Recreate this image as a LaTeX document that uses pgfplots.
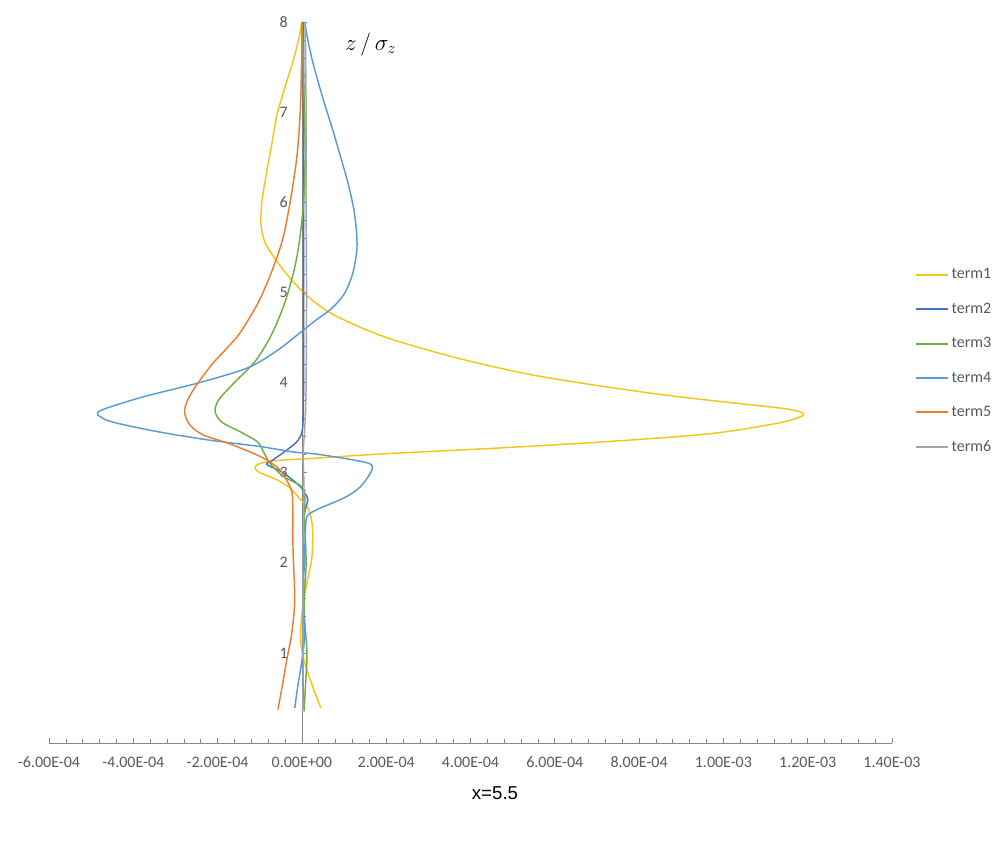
\documentclass[border=0pt]{standalone}
\usepackage{pgfplots}
\pgfplotsset{compat=1.18}
\usepackage{fontspec}
\setmainfont{Carlito}
\newfontfamily\arialfont{Liberation Sans}
\definecolor{cTa}{RGB}{245,197,24}
\definecolor{cTb}{RGB}{68,114,196}
\definecolor{cTc}{RGB}{112,173,71}
\definecolor{cTd}{RGB}{91,155,213}
\definecolor{cTe}{RGB}{237,125,49}
\definecolor{cTf}{RGB}{165,165,165}
\definecolor{axgray}{RGB}{134,134,134}
\definecolor{labgray}{RGB}{89,89,89}
\begin{document}
\begin{tikzpicture}
\path[use as bounding box] (0,0) rectangle (749.25pt,638.25pt);
\begin{axis}[
  at={(36.75pt,81pt)}, anchor=south west,
  scale only axis, width=632.25pt, height=540.75pt,
  xmin=-6e-4, xmax=1.4e-3, ymin=0, ymax=8,
  axis lines=middle,
  axis line style={-, draw=axgray, line width=0.6pt},
  hide obscured x ticks=false,
  scaled x ticks=false,
  xtick={-6e-4,-4e-4,-2e-4,0,2e-4,4e-4,6e-4,8e-4,1e-3,1.2e-3,1.4e-3},
  xticklabels={-6.00E-04,-4.00E-04,-2.00E-04,0.00E+00,2.00E-04,4.00E-04,6.00E-04,8.00E-04,1.00E-03,1.20E-03,1.40E-03},
  ytick={1,2,3,4,5,6,7,8},
  yticklabels={1,2,3,4,5,6,7,8},
  minor x tick num=4, minor y tick num=4,
  tick align=inside,
  tick style={axgray, line width=0.5pt},
  major tick length=4pt, minor tick length=3pt,
  tick label style={font=\fontsize{12}{14}\selectfont, text=labgray},
  xticklabel style={yshift=-7pt},
  yticklabel style={xshift=-7pt},
  clip=false,
  legend style={at={(1.027,0.53)}, anchor=west, draw=none, fill=none,
    font=\fontsize{12}{14}\selectfont, text=labgray, row sep=12.5pt, inner sep=0pt},
  legend cell align=left,
  legend image code/.code={\draw[#1, line width=1.5pt] (0pt,0pt) -- (24pt,0pt);},
  every axis plot/.append style={line width=1.1pt, no marks, smooth, tension=0.5},
]
% term1
\addplot[cTa] coordinates {
(4.5e-5,0.39) (2.6e-5,0.62) (6e-6,0.9) (-3e-6,1.14) (1e-6,1.48) (1.2e-5,1.78)
(2.3e-5,2.03) (2.6e-5,2.3) (2.3e-5,2.47) (1.5e-5,2.6) (-5e-6,2.71) (-2.8e-5,2.83)
(-5.9e-5,2.92) (-1.0e-4,3.00) (-1.11e-4,3.05) (-1.05e-4,3.09) (-6.9e-5,3.13)
(3.1e-5,3.16) (2.0e-4,3.21) (4.55e-4,3.27) (7.1e-4,3.34) (9.65e-4,3.43)
(1.13e-3,3.55) (1.19e-3,3.64) (1.16e-3,3.70) (1.05e-3,3.76) (8.8e-4,3.85)
(7.1e-4,3.96) (5.4e-4,4.09) (3.7e-4,4.27) (2.0e-4,4.50) (8e-5,4.74)
(1.5e-5,4.95) (-3.0e-5,5.17) (-6.5e-5,5.38) (-8.8e-5,5.56) (-9.7e-5,5.75)
(-9.5e-5,6.0) (-8.5e-5,6.3) (-7.3e-5,6.6) (-6e-5,6.95) (-4.2e-5,7.25)
(-2.2e-5,7.55) (-8e-6,7.8) (0,8.0)
};
\addlegendentry{term1}
% term2
\addplot[cTb] coordinates {
(2e-6,0.37) (3e-6,0.6) (2e-6,0.9) (4e-6,1.5) (3e-6,2.0) (5e-6,2.5) (1.4e-5,2.70)
(7e-6,2.77) (-5e-6,2.85) (-4.5e-5,3.0) (-8.3e-5,3.09) (-6.9e-5,3.14) (-3.6e-5,3.25)
(-9e-6,3.36) (2e-6,3.51) (4e-6,4.0) (4e-6,5.0) (4e-6,6.0) (4e-6,7.0) (4e-6,8.0)
};
\addlegendentry{term2}
% term3
\addplot[cTc] coordinates {
(5e-6,0.35) (8e-6,0.6) (1.2e-5,1.0) (5e-6,1.5) (1e-5,2.0) (6e-6,2.5) (7e-6,2.73)
(2e-6,2.83) (-1.2e-5,2.88) (-4.5e-5,2.96) (-7.5e-5,3.1) (-9.0e-5,3.22)
(-1.05e-4,3.34) (-1.45e-4,3.45) (-1.9e-4,3.56) (-2.06e-4,3.68) (-1.97e-4,3.81)
(-1.6e-4,4.0) (-1.1e-4,4.24) (-7e-5,4.55) (-3.8e-5,4.92) (-1.6e-5,5.3)
(-5e-6,5.6) (4e-6,6.0) (8e-6,6.5) (6e-6,7.0) (1e-6,8.0)
};
\addlegendentry{term3}
% term4
\addplot[cTd] coordinates {
(-1.7e-5,0.39) (-1.0e-5,0.62) (0,0.92) (7e-6,1.22) (2e-6,1.59) (6e-6,2.0)
(8e-6,2.3) (1.2e-5,2.51) (3.6e-5,2.59) (1.0e-4,2.72) (1.38e-4,2.84) (1.66e-4,3.03)
(1.54e-4,3.11) (4.3e-5,3.20) (-2.1e-5,3.23) (-1.0e-4,3.29) (-2.18e-4,3.36)
(-3.37e-4,3.45) (-4.48e-4,3.56) (-4.84e-4,3.64) (-4.72e-4,3.70) (-3.77e-4,3.84)
(-2.42e-4,4.0) (-1.3e-4,4.16) (-6e-5,4.35) (-5e-6,4.55) (3e-5,4.68)
(7e-5,4.82) (1.0e-4,4.98) (1.2e-4,5.2) (1.3e-4,5.45) (1.3e-4,5.63)
(1.24e-4,5.9) (1.1e-4,6.2) (9.2e-5,6.5) (7.4e-5,6.79) (5e-5,7.15)
(2.6e-5,7.55) (1.2e-5,7.85) (7e-6,8.0)
};
\addlegendentry{term4}
% term5
\addplot[cTe] coordinates {
(-5.7e-5,0.37) (-4.7e-5,0.62) (-3.6e-5,0.92) (-2.4e-5,1.22) (-1.7e-5,1.59)
(-2.1e-5,2.14) (-2.2e-5,2.70) (-2.8e-5,2.84) (-5.2e-5,3.03) (-8.3e-5,3.14)
(-1.23e-4,3.23) (-1.78e-4,3.33) (-2.35e-4,3.42) (-2.66e-4,3.53) (-2.78e-4,3.66)
(-2.75e-4,3.76) (-2.6e-4,3.9) (-2.38e-4,4.05) (-2.1e-4,4.22) (-1.8e-4,4.37)
(-1.5e-4,4.53) (-1.24e-4,4.72) (-1.0e-4,4.92) (-7e-5,5.25) (-4.5e-5,5.6)
(-2.8e-5,6.0) (-1.2e-5,6.5) (-4e-6,7.0) (-1e-6,7.5) (0,8.0)
};
\addlegendentry{term5}
% term6
\addplot[cTf] coordinates {
(2e-6,0.35) (3e-6,1.0) (2e-6,2.0) (5e-6,2.8) (3e-6,3.2) (8e-6,3.6) (1e-5,4.0)
(1.1e-5,5.0) (1e-5,6.0) (1e-5,7.0) (8e-6,8.0)
};
\addlegendentry{term6}
\end{axis}
\node[font=\fontsize{17}{20}\selectfont] at (278pt,605pt) {$z\,/\,\sigma_z$};
\node[font=\arialfont\fontsize{14}{16}\selectfont, text=black] at (371.25pt,43.5pt) {x=5.5};
\end{tikzpicture}
\end{document}
